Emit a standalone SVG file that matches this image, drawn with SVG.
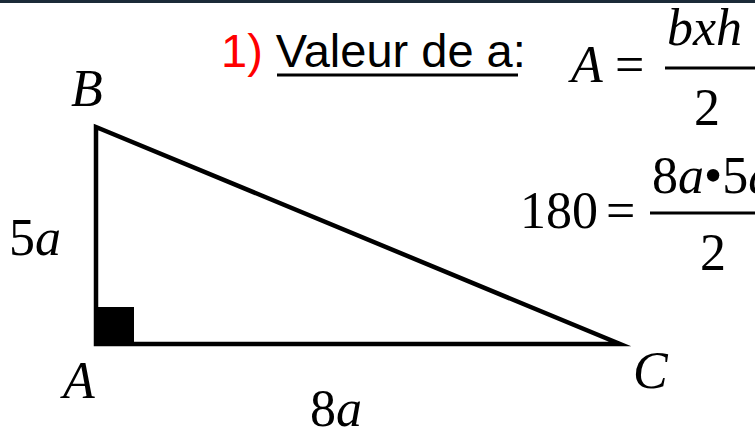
<svg xmlns="http://www.w3.org/2000/svg" width="755" height="433" viewBox="0 0 755 433">
<style>
.m{font-family:"Liberation Serif","Times New Roman",serif;font-size:52px;fill:#000}
.i{font-style:italic}
.s{font-family:"Liberation Sans",Arial,sans-serif;font-size:47px;fill:#000}
.bar{stroke:#000;stroke-width:3}
</style>
<rect x="0" y="0" width="755" height="433" fill="#fff"/>
<rect x="0" y="0" width="755" height="3" fill="#1b2a38"/>
<g id="connectors">
<polygon points="96,127 620,344 96,344" fill="none" stroke="#000" stroke-width="4.5" stroke-miterlimit="10" stroke-linejoin="miter"/>
<rect x="94" y="307" width="40" height="38" fill="#000"/>
</g>
<g id="node-B"><text class="m i" x="71" y="106">B</text></g>
<g id="node-A"><text class="m i" x="63" y="398">A</text></g>
<g id="node-C"><text class="m i" x="633" y="388">C</text></g>
<g id="label-5a"><text class="m" x="9" y="255">5<tspan class="i">a</tspan></text></g>
<g id="label-8a"><text class="m" x="310" y="426">8<tspan class="i">a</tspan></text></g>
<g id="title">
<text class="s" x="221" y="67"><tspan fill="#ff0000">1)</tspan> Valeur de a:</text>
<line x1="277" y1="75" x2="518" y2="75" stroke="#000" stroke-width="3"/>
</g>
<g id="formula1">
<text class="m i" x="571" y="82">A</text>
<text class="m" x="615" y="82">=</text>
<line class="bar" x1="665" y1="68" x2="755" y2="68"/>
<text class="m i" x="667" y="45">bxh</text>
<text class="m" x="694" y="125">2</text>
</g>
<g id="formula2">
<text class="m" x="520" y="228">180</text>
<text class="m" x="606" y="228">=</text>
<line class="bar" x1="650" y1="213" x2="755" y2="213"/>
<text class="m" x="652" y="193">8<tspan class="i">a</tspan>•5<tspan class="i">a</tspan></text>
<text class="m" x="700" y="270">2</text>
</g>
</svg>
